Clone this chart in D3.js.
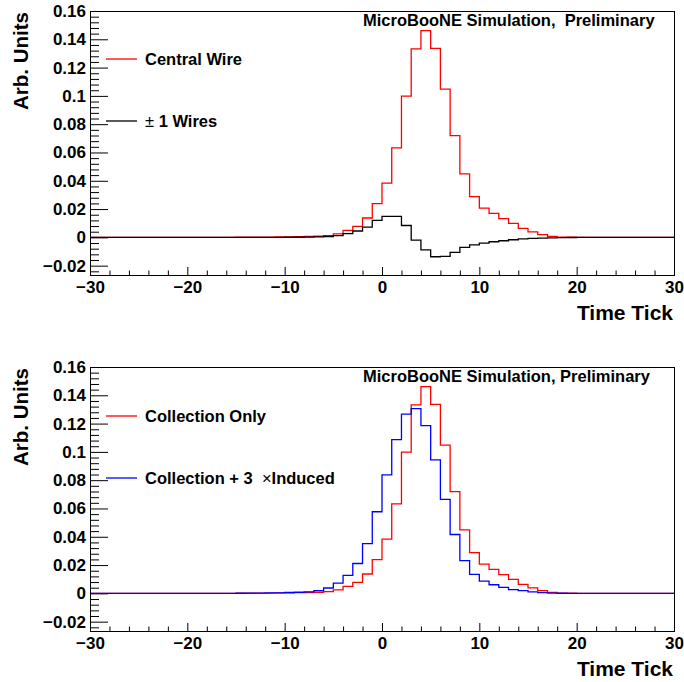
<!DOCTYPE html>
<html>
<head>
<meta charset="utf-8">
<script src="https://cdn.jsdelivr.net/npm/d3@7"></script>
<style>
  body { margin: 0; background: #fff; }
  text { font-family: "Liberation Sans", Arial, Helvetica, sans-serif; font-weight: bold; fill: #000; }
</style>
</head>
<body>
<div id="chart"></div>
<script>
// bin low edges, one bin per time tick from -30 to 29
var binLow = [-30,-29,-28,-27,-26,-25,-24,-23,-22,-21,-20,-19,-18,-17,-16,-15,-14,-13,-12,-11,
              -10,-9,-8,-7,-6,-5,-4,-3,-2,-1,0,1,2,3,4,5,6,7,8,9,
              10,11,12,13,14,15,16,17,18,19,20,21,22,23,24,25,26,27,28,29];

var centralWire = [0,0,0,0,0,0,0,0,0,0,0,0,0,0,0,0.0001,0.0001,0.0002,0.0002,0.0003,
                   0.0004,0.0005,0.0006,0.0008,0.0012,0.0025,0.005,0.0078,0.0137,0.0238,
                   0.0383,0.0633,0.0998,0.1332,0.1461,0.1336,0.1048,0.0719,0.0449,0.0288,
                   0.0207,0.0169,0.0133,0.0099,0.0063,0.0039,0.002,0.0007,0.0002,0.0001,
                   0,0,0,0,0,0,0,0,0,0];

var plusMinusOneWires = [0,0,0,0,0,0,0,0,0,0,0,0,0,0,0,0,0,0,0,0,
                   0.0001,0.0001,0.0002,0.0003,0.0006,0.0012,0.0026,0.0045,0.0073,0.012,
                   0.0148,0.0148,0.0084,-0.0019,-0.0088,-0.0137,-0.0134,-0.0106,-0.0071,-0.0053,
                   -0.004,-0.0031,-0.0024,-0.0017,-0.0010,-0.0007,-0.0005,-0.0003,-0.0002,-0.0001,
                   0,0,0,0,0,0,0,0,0,0];

var collectionOnly = centralWire;

var collectionPlusInduced = [0,0,0,0,0,0,0,0,0,0,0,0,0,0,0,0.0001,0.0002,0.0002,0.0003,0.0004,
                   0.0006,0.0008,0.001,0.0019,0.0038,0.0073,0.0127,0.0211,0.0351,0.0577,
                   0.0838,0.1087,0.1267,0.1306,0.1185,0.0944,0.0664,0.0416,0.0232,0.0134,
                   0.0086,0.0061,0.0042,0.0026,0.0019,0.001,0.0005,0.0002,0.0001,0,
                   0,0,0,0,0,0,0,0,0,0];

var xTicks = [-30,-20,-10,0,10,20,30];
var xMinor = [-28,-26,-24,-22,-18,-16,-14,-12,-8,-6,-4,-2,2,4,6,8,12,14,16,18,22,24,26,28];
var yTicks = [-0.02,0,0.02,0.04,0.06,0.08,0.1,0.12,0.14,0.16];

var width = 684, height = 682;
var svg = d3.select('#chart').append('svg')
    .attr('width', width)
    .attr('height', height);

var x = d3.scaleLinear().domain([-30, 30]).range([90, 674]);

var fmtY = function(d) {
    if (Math.abs(d) < 1e-9) return '0';
    return String(+d.toFixed(2)).replace('-', '\u2212');
};
var fmtX = function(d) {
    return String(d).replace('-', '\u2212');
};

var drawPanel = function(top, series, title) {
    var bottom = top + 264;
    var y = d3.scaleLinear().domain([-0.0266, 0.16]).range([bottom, top]);
    var g = svg.append('g');

    // minor y ticks
    var yMinor = d3.range(-0.024, 0.1601, 0.004).filter(function(v) {
        return Math.abs(Math.round(v / 0.02) * 0.02 - v) > 1e-6;
    });
    g.append('g')
        .attr('transform', 'translate(90,0)')
        .call(d3.axisLeft(y).tickValues(yMinor).tickSize(-9).tickFormat(''))
        .call(function(a) { a.select('.domain').remove(); });
    g.append('g')
        .attr('transform', 'translate(90,0)')
        .call(d3.axisLeft(y).tickValues(yTicks).tickSizeInner(-18).tickSizeOuter(0).tickPadding(4).tickFormat(fmtY))
        .call(function(a) {
            a.select('.domain').remove();
            a.selectAll('text').style('font-size', '17px').attr('fill', '#000');
        });

    // x ticks
    g.append('g')
        .attr('transform', 'translate(0,' + bottom + ')')
        .call(d3.axisBottom(x).tickValues(xMinor).tickSize(-4.5).tickFormat(''))
        .call(function(a) { a.select('.domain').remove(); });
    g.append('g')
        .attr('transform', 'translate(0,' + bottom + ')')
        .call(d3.axisBottom(x).tickValues(xTicks).tickSizeInner(-8).tickSizeOuter(0).tickPadding(6).tickFormat(fmtX))
        .call(function(a) {
            a.select('.domain').remove();
            a.selectAll('text').style('font-size', '17px').attr('fill', '#000');
        });

    g.selectAll('.tick line').attr('stroke', '#000');

    // histograms
    var line = d3.line()
        .x(function(d) { return x(d[0]); })
        .y(function(d) { return y(d[1]); })
        .curve(d3.curveStepAfter);

    series.forEach(function(s) {
        var pts = binLow.map(function(b, i) { return [b, s.values[i]]; });
        pts.push([30, s.values[s.values.length - 1]]);
        g.append('path')
            .attr('d', line(pts))
            .attr('fill', 'none')
            .attr('stroke', s.color)
            .attr('stroke-width', 1.3);
    });

    // frame
    g.append('rect')
        .attr('x', 90.5).attr('y', top + 0.5)
        .attr('width', 584).attr('height', bottom - top)
        .attr('fill', 'none')
        .attr('stroke', '#000')
        .attr('stroke-width', 1);

    // legend
    series.forEach(function(s) {
        var ly = top + s.legendY;
        g.append('line')
            .attr('x1', 106).attr('x2', 137)
            .attr('y1', ly).attr('y2', ly)
            .attr('stroke', s.color).attr('stroke-width', 1.3);
        var t = g.append('text')
            .attr('x', 145).attr('y', ly + 6)
            .style('font-size', '16.5px')
            .style('white-space', 'pre');
        s.label.forEach(function(part) {
            t.append('tspan')
                .style('font-weight', part.plain ? 'normal' : 'bold')
                .text(part.text);
        });
    });

    // title
    g.append('text')
        .attr('x', 363).attr('y', top + 15)
        .style('font-size', '16.5px')
        .style('white-space', 'pre')
        .text(title);

    // axis titles
    g.append('text')
        .attr('text-anchor', 'end')
        .attr('transform', 'translate(28,' + (top + 1) + ') rotate(-90)')
        .style('font-size', '20.5px')
        .text('Arb. Units');
    g.append('text')
        .attr('text-anchor', 'end')
        .attr('x', 673).attr('y', bottom + 45)
        .style('font-size', '21px')
        .text('Time Tick');
};

drawPanel(11, [
    {values: centralWire, color: '#ff0000', legendY: 48, label: [{text: 'Central Wire'}]},
    {values: plusMinusOneWires, color: '#000000', legendY: 110, label: [{text: '\u00b1', plain: true}, {text: ' 1 Wires'}]}
], 'MicroBooNE Simulation,  Preliminary');

drawPanel(367, [
    {values: collectionOnly, color: '#ff0000', legendY: 49, label: [{text: 'Collection Only'}]},
    {values: collectionPlusInduced, color: '#0000ff', legendY: 111, label: [{text: 'Collection + 3  '}, {text: '\u00d7', plain: true}, {text: 'Induced'}]}
], 'MicroBooNE Simulation, Preliminary');
</script>
</body>
</html>
